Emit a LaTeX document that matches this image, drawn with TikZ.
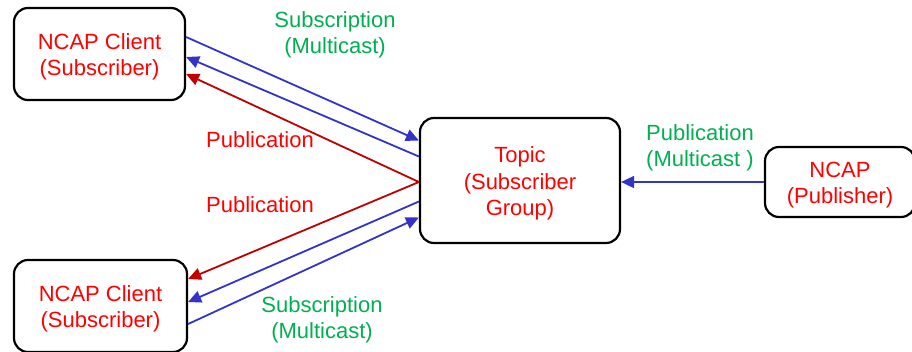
\documentclass[tikz,border=0pt]{standalone}
\usepackage{fontspec}
\setmainfont{Liberation Sans}
\usetikzlibrary{arrows.meta}
\definecolor{txtred}{RGB}{255,0,0}
\definecolor{linered}{RGB}{192,0,0}
\definecolor{lineblue}{RGB}{51,51,204}
\definecolor{txtgreen}{RGB}{0,176,80}
\begin{document}
\begin{tikzpicture}[x=1pt,y=-1pt,
  boxtxt/.style={align=center,text=txtred,font=\fontsize{22}{26.5}\selectfont,yshift=-3pt},
  box/.style={draw=black,line width=2.2pt,rounded corners=14pt,fill=white,
    inner sep=0pt,label={[boxtxt]center:{#1}}},
  lbl/.style={align=center,font=\fontsize{22}{26}\selectfont},
  sub/.style={lineblue,line width=1.8pt,-{Triangle[length=13pt,width=12pt]}},
  pub/.style={linered,line width=1.8pt,-{Triangle[length=13pt,width=12pt]}}]
\useasboundingbox (0,0) rectangle (912,351);
% participants
\node[box={NCAP Client\\(Subscriber)},minimum width=171pt,minimum height=92pt] (c1) at (99.5,54) {};
\node[box={NCAP Client\\(Subscriber)},minimum width=173pt,minimum height=92pt] (c2) at (100.5,306) {};
\node[box={Topic\\(Subscriber\\Group)},minimum width=200pt,minimum height=125pt] (topic) at (520,180.5) {};
\node[box={NCAP\\(Publisher)},minimum width=150pt,minimum height=70pt] (pubr) at (840,182) {};
% attachment points on the box sides (yshift is upward)
\coordinate (c1a) at ([yshift=17pt]c1.east);
\coordinate (c1b) at ([yshift=-3pt]c1.east);
\coordinate (c1c) at ([yshift=-20pt]c1.east);
\coordinate (c2a) at ([yshift=27pt]c2.east);
\coordinate (c2b) at ([yshift=4pt]c2.east);
\coordinate (c2c) at ([yshift=-18pt]c2.east);
\coordinate (ta) at ([yshift=40pt]topic.west);
\coordinate (tb) at ([yshift=24pt]topic.west);
\coordinate (tc) at ([yshift=-1.5pt]topic.west);
\coordinate (td) at ([yshift=-21pt]topic.west);
\coordinate (te) at ([yshift=-37pt]topic.west);
% upper client
\draw[sub] (c1a) -- (ta);
\draw[sub] (tb) -- (c1b);
\draw[pub] (tc) -- (c1c);
% lower client
\draw[pub] (tc) -- (c2a);
\draw[sub] (td) -- (c2b);
\draw[sub] (c2c) -- (te);
% publisher to topic
\draw[sub] (pubr.west) -- (topic.east |- pubr.west);
% labels
\node[lbl,text=txtgreen] (l1) at (335,35) {Subscription\\(Multicast)};
\node[lbl,text=txtred] (l2) at (260,140) {Publication};
\node[lbl,text=txtred] (l3) at (260,205) {Publication};
\node[lbl,text=txtgreen] (l4) at (322,320) {Subscription\\(Multicast)};
\node[lbl,text=txtgreen] (l5) at (700,148) {Publication\\(Multicast )};
\end{tikzpicture}
\end{document}
